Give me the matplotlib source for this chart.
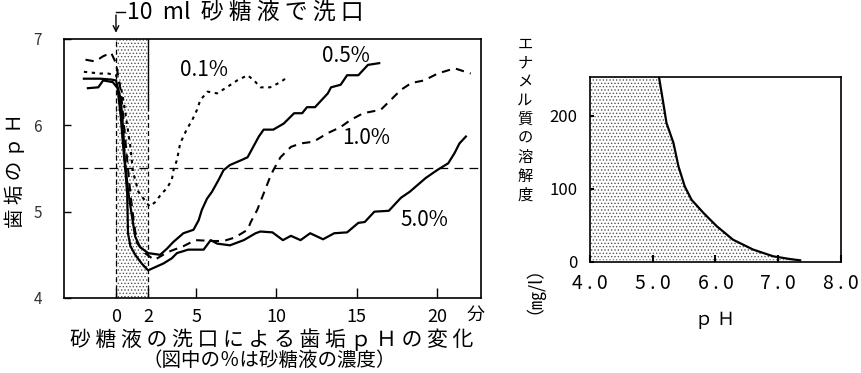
import numpy as np
import matplotlib
matplotlib.use('Agg')
import matplotlib.pyplot as plt

plt.rcParams['font.family'] = ['Noto Sans CJK JP', 'DejaVu Sans']
plt.rcParams['hatch.linewidth'] = 0.6

# rinse period (min)
rinse = [0, 2]
crit_ph = 5.5

# 0.1% sugar (dotted)
t_01 = [-2.0, -1.5, -1.0, -0.5, 0.0, 0.3, 0.5, 0.7, 0.9, 1.06, 1.4, 1.8, 2.1, 2.44, 2.85,
        3.17, 3.48, 3.58, 3.8, 4.0, 4.4, 4.75, 5.05, 5.25, 5.7, 6.3, 6.9, 7.55, 8.2, 8.6,
        9.0, 9.6, 10.25, 10.7]
ph_01 = [6.62, 6.61, 6.6, 6.6, 6.58, 6.45, 6.25, 6.0, 5.75, 5.46, 5.23, 5.13, 5.06, 5.11, 5.21,
         5.27, 5.37, 5.48, 5.6, 5.79, 5.95, 6.06, 6.18, 6.29, 6.39, 6.37, 6.44, 6.52, 6.58, 6.52,
         6.44, 6.44, 6.5, 6.56]

# 0.5% sugar (solid)
t_05 = [-2.0, -1.0, -0.3, 0.0, 0.3, 0.45, 0.55, 0.75, 1.0, 1.2, 1.5, 2.0, 2.75, 3.17, 3.58,
        4.2, 4.83, 5.15, 5.35, 5.67, 5.98, 6.4, 6.7, 7.1, 7.85, 8.2, 8.9, 9.2, 9.8, 10.45,
        11.1, 11.6, 11.9, 12.4, 13.2, 13.4, 14.0, 14.4, 15.1, 15.7, 16.4]
ph_05 = [6.54, 6.54, 6.53, 6.52, 6.3, 5.95, 5.6, 5.25, 4.94, 4.71, 4.59, 4.52, 4.5, 4.57, 4.65,
         4.75, 4.79, 4.9, 5.02, 5.15, 5.23, 5.37, 5.48, 5.54, 5.6, 5.63, 5.87, 5.95, 5.95, 6.02,
         6.14, 6.14, 6.21, 6.21, 6.37, 6.44, 6.47, 6.58, 6.58, 6.7, 6.72]

# 1.0% sugar (dashed)
t_10 = [-1.9, -1.3, -0.8, -0.3, 0.0, 0.3, 0.5, 0.7, 0.9, 1.1, 1.3, 1.8, 2.4, 3.2, 4.2,
        4.94, 6.1, 6.7, 7.4, 8.2, 8.4, 8.8, 9.2, 9.6, 9.8, 10.25, 10.9, 11.5, 12.3, 13.2,
        14.0, 14.6, 15.4, 16.5, 17.1, 17.75, 18.4, 19.2, 20.05, 21.1, 22.1]
ph_10 = [6.76, 6.74, 6.8, 6.84, 6.72, 6.4, 6.0, 5.6, 5.2, 4.9, 4.64, 4.52, 4.44, 4.53, 4.6,
         4.67, 4.66, 4.66, 4.7, 4.79, 4.88, 5.02, 5.21, 5.4, 5.48, 5.63, 5.75, 5.79, 5.81, 5.91,
         5.98, 6.06, 6.14, 6.18, 6.29, 6.41, 6.49, 6.52, 6.6, 6.66, 6.6]

# 5.0% sugar (solid)
t_50 = [-1.75, -1.1, -0.8, -0.2, 0.1, 0.3, 0.45, 0.6, 0.7, 0.75, 0.9, 1.2, 1.6, 2.0, 2.96,
        3.48, 3.8, 4.5, 5.46, 5.9, 6.3, 7.1, 7.96, 8.7, 9.0, 9.75, 10.4, 10.9, 11.5, 12.1,
        12.9, 13.6, 14.4, 15.1, 15.5, 16.1, 17.0, 17.75, 18.3, 18.8, 19.3, 20.0, 20.7, 21.1,
        21.4, 21.8]
ph_50 = [6.43, 6.44, 6.52, 6.5, 6.43, 6.1, 5.75, 5.45, 5.2, 4.75, 4.6, 4.5, 4.4, 4.32, 4.4,
         4.46, 4.52, 4.56, 4.56, 4.67, 4.63, 4.61, 4.67, 4.75, 4.77, 4.76, 4.67, 4.72, 4.67, 4.75,
         4.68, 4.75, 4.76, 4.87, 4.88, 5.0, 5.01, 5.16, 5.23, 5.31, 5.39, 5.48, 5.56, 5.68,
         5.79, 5.87]

labels = ['0.1%', '0.5%', '1.0%', '5.0%']
label_pos = [(5.5, 6.64), (14.3, 6.8), (15.6, 5.85), (19.2, 4.9)]

x_ticks = [0, 2, 5, 10, 15, 20]
y_ticks = [4, 5, 6, 7]

# enamel solubility vs pH
sol_ph = [5.10, 5.16, 5.22, 5.33, 5.41, 5.51, 5.62, 5.81, 6.02, 6.28, 6.60, 6.92, 7.19, 7.35]
sol_val = [253, 222, 190, 163, 131, 103.5, 85, 67, 49, 30.5, 17, 7.8, 4, 2.3]
sol_xticks = [4.0, 5.0, 6.0, 7.0, 8.0]
sol_yticks = [0, 100, 200]

fig = plt.figure(figsize=(8.61, 3.73), dpi=100)
ax = fig.add_axes([0.0743, 0.2011, 0.4843, 0.6944])

ax.fill_between(rinse, 4, 7, facecolor='white', hatch='.....', edgecolor='#555',
                linewidth=0, zorder=0)
ax.axvline(rinse[0], color='black', lw=0.9, ls=(0, (4, 2.5)), zorder=1)
ax.plot([rinse[1], rinse[1]], [6.2, 7.0], color='black', lw=1.0, zorder=1)
ax.plot([rinse[1], rinse[1]], [4.0, 6.2], color='black', lw=0.9, ls=(0, (4, 2.5)), zorder=1)
ax.axhline(crit_ph, color='black', lw=0.9, ls=(0, (7, 5)), zorder=1)

ax.plot(t_01, ph_01, color='black', lw=1.5, ls=(0, (1.6, 2.2)))
ax.plot(t_05, ph_05, color='black', lw=1.6)
ax.plot(t_10, ph_10, color='black', lw=1.5, ls=(0, (4, 3)))
ax.plot(t_50, ph_50, color='black', lw=1.6)

for lab, (lx, ly) in zip(labels, label_pos):
    ax.text(lx, ly, lab, fontsize=15, ha='center', va='center')

ax.set_xlim(-3.24, 22.74)
ax.set_ylim(4, 7)
ax.set_xticks(x_ticks)
ax.set_xticklabels([str(v) for v in x_ticks], fontsize=13)
ax.set_yticks(y_ticks)
ax.set_yticklabels([str(v) for v in y_ticks], fontsize=11, color='#333333')
ax.tick_params(axis='x', direction='in', length=7, width=1, pad=7)
ax.tick_params(axis='y', direction='in', length=5, width=1, pad=16)
for s in ax.spines.values():
    s.set_linewidth(1.2)

# arrow and note above
ax.annotate('', xy=(rinse[0], 7.04), xytext=(rinse[0], 7.31),
            arrowprops=dict(arrowstyle='->', lw=1.0, color='black'),
            annotation_clip=False)
ax.plot([rinse[0], 0.55], [7.31, 7.31], color='black', lw=1.0, clip_on=False)
ax.text(0.68, 7.31, '10  ml  砂 糖 液 で 洗 口', fontsize=16.5, ha='left', va='center')

ax.text(22.4, 3.8, '分', fontsize=13, ha='center', va='center', clip_on=False)

fig.text(15 / 861, 1 - 170 / 373, '歯 垢 の ｐ Ｈ', rotation=90, fontsize=14,
         ha='center', va='center')
fig.text(272 / 861, 1 - 340 / 373, '砂 糖 液 の 洗 口 に よ る 歯 垢 ｐ Ｈ の 変 化',
         fontsize=15, ha='center', va='center')
fig.text(269 / 861, 1 - 360 / 373, '（図中の％は砂糖液の濃度）', fontsize=14,
         ha='center', va='center')

# right panel
ax2 = fig.add_axes([0.6852, 0.2976, 0.2915, 0.496])
ax2.fill_betweenx(sol_val, sol_xticks[0], sol_ph, facecolor='white', hatch='.....',
                  edgecolor='#555', linewidth=0, zorder=0)
ax2.plot(sol_ph, sol_val, color='black', lw=1.6)
ax2.set_xlim(4, 8)
ax2.set_ylim(0, 253)
ax2.set_xticks(sol_xticks)
ax2.set_xticklabels([' . '.join(('%.1f' % v).split('.')) for v in sol_xticks], fontsize=14)
ax2.set_yticks(sol_yticks)
ax2.set_yticklabels([str(v) for v in sol_yticks], fontsize=12)
ax2.tick_params(axis='x', direction='in', length=5, width=1.5, pad=8)
ax2.tick_params(axis='y', direction='in', length=3, width=1.5, pad=9)
for s in ax2.spines.values():
    s.set_linewidth(1.2)

ax2.text(6.0, -80, 'ｐ Ｈ', fontsize=13, ha='center', va='center')

ylab_chars = list('エナメル質の溶解度')
for ch, yy in zip(ylab_chars, np.linspace(44, 195, len(ylab_chars))):
    fig.text(525 / 861, 1 - yy / 373, ch, fontsize=11, ha='center', va='center')
fig.text(525 / 861, 1 - 281 / 373, '（㎎/l）', rotation=90, fontsize=13,
         ha='center', va='center')

fig.savefig('out.png', dpi=100)
